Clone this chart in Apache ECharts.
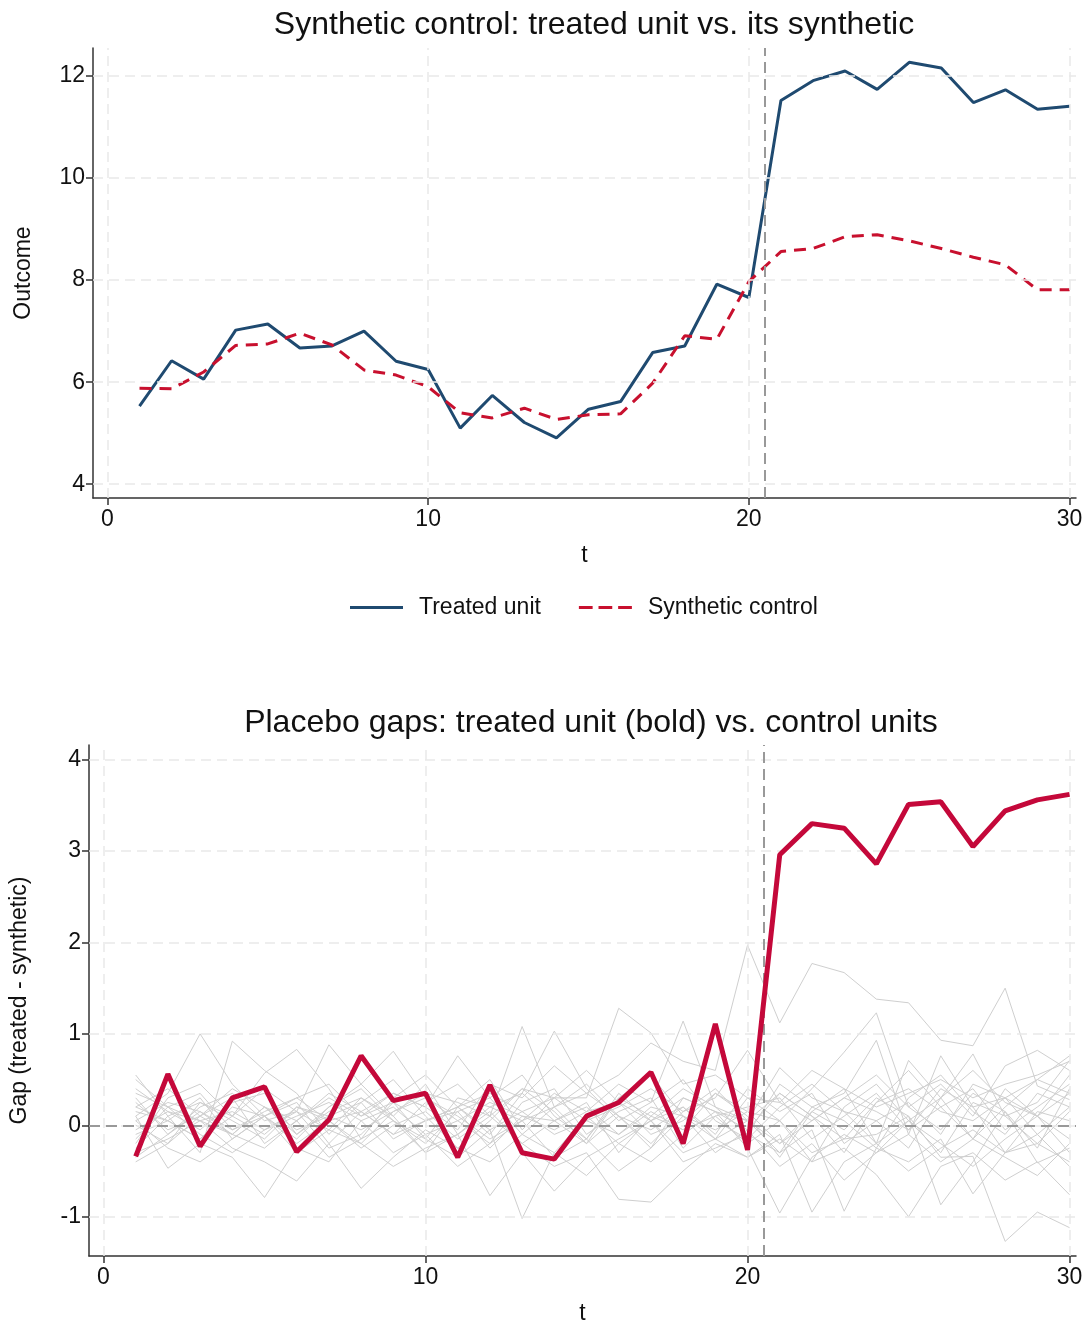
<!DOCTYPE html>
<html>
<head>
<meta charset="utf-8">
<script src="https://cdn.jsdelivr.net/npm/echarts@6/dist/echarts.min.js"></script>
<style>
  html, body { margin: 0; padding: 0; background: #fff; }
  #chart { width: 1089px; height: 1326px; }
</style>
</head>
<body>
<div id="chart"></div>
<script>
// periods t = 1..30
const periods = [1,2,3,4,5,6,7,8,9,10,11,12,13,14,15,16,17,18,19,20,21,22,23,24,25,26,27,28,29,30]
const treatedOutcome = [5.53,6.42,6.06,7.02,7.14,6.67,6.71,7.00,6.41,6.25,5.10,5.74,5.21,4.91,5.47,5.62,6.58,6.71,7.92,7.66,11.52,11.91,12.10,11.74,12.27,12.16,11.48,11.73,11.35,11.41]
const syntheticOutcome = [5.88,5.87,6.20,6.72,6.75,6.96,6.73,6.24,6.14,5.91,5.40,5.30,5.49,5.27,5.36,5.38,5.98,6.91,6.84,7.97,8.56,8.62,8.85,8.89,8.77,8.62,8.45,8.30,7.81,7.81]
const treatedGap = [-0.34,0.56,-0.23,0.30,0.42,-0.29,0.06,0.76,0.27,0.35,-0.35,0.44,-0.30,-0.37,0.10,0.25,0.58,-0.20,1.11,-0.27,2.96,3.30,3.25,2.86,3.51,3.54,3.05,3.44,3.56,3.62]
// gaps of the control units (placebo runs)
const placeboGaps = [
  [0.05,0.25,0.15,-0.10,0.20,0.05,0.30,0.10,0.35,0.20,-0.05,0.45,0.30,0.65,0.35,0.55,0.90,0.70,0.60,1.97,1.12,1.77,1.67,1.38,1.34,0.93,0.87,1.50,0.43,0.28],
  [0.10,0.35,1.00,0.45,0.10,-0.15,0.20,0.40,0.05,-0.20,0.15,0.30,-0.10,0.20,0.45,0.10,-0.25,0.30,0.15,-0.05,0.35,0.10,-0.30,0.25,0.60,0.20,-0.15,0.40,0.10,0.55],
  [0.55,0.10,-0.30,0.92,0.60,0.35,-0.10,0.25,0.50,0.10,-0.25,0.05,0.40,0.15,-0.20,0.30,0.55,0.10,-0.15,0.30,0.05,-0.40,0.20,0.45,0.05,-0.30,0.25,0.10,-0.20,0.15],
  [-0.20,0.30,0.45,0.10,0.57,0.83,0.40,-0.15,0.30,0.55,0.20,-0.10,0.35,0.05,0.25,-0.30,0.10,0.40,0.20,-0.10,0.45,0.20,0.05,-0.25,0.30,0.55,0.15,-0.10,0.35,0.20],
  [0.30,-0.10,0.20,0.35,0.05,0.15,0.88,0.45,0.10,-0.30,0.20,0.50,-0.05,0.30,0.60,0.25,-0.10,0.05,0.35,0.10,-0.35,0.15,0.40,-0.20,0.05,0.30,-0.15,0.20,0.50,0.35],
  [0.40,0.15,-0.05,0.25,0.35,-0.10,0.20,0.45,0.81,0.30,0.05,-0.20,0.25,0.40,-0.10,0.15,0.30,-0.25,0.10,0.20,0.30,-0.15,0.10,0.35,-0.05,0.40,0.20,-0.30,0.15,0.05],
  [-0.10,0.05,0.30,-0.15,0.10,0.25,-0.20,0.15,0.35,0.20,0.76,0.30,0.55,0.10,-0.15,0.35,0.05,0.20,-0.10,0.40,0.15,0.35,-0.20,0.05,0.25,-0.10,0.45,0.30,0.10,-0.15],
  [0.20,0.40,0.10,0.30,-0.20,0.05,0.35,0.15,-0.10,0.25,0.45,0.10,1.08,0.20,-0.15,0.30,0.10,-0.05,0.35,0.15,-0.20,0.05,0.30,0.55,0.20,-0.05,0.35,0.15,-0.25,0.40],
  [0.00,-0.20,0.25,0.10,0.40,0.15,-0.05,0.30,0.10,0.45,-0.10,0.20,0.35,1.03,0.40,0.05,0.25,0.50,0.05,-0.15,0.20,0.45,0.15,0.05,-0.25,0.30,0.60,0.25,0.10,0.35],
  [0.15,0.05,-0.15,0.20,0.10,0.30,0.05,-0.20,0.15,0.35,0.25,0.10,0.40,0.30,0.30,1.28,1.01,0.45,0.55,0.30,0.25,0.60,0.40,0.20,0.35,0.50,0.30,0.45,0.55,0.70],
  [0.25,-0.05,0.10,0.40,0.20,-0.10,0.15,0.30,0.05,-0.15,0.30,0.20,0.05,0.35,0.15,0.45,0.25,1.14,0.20,0.05,0.35,0.10,-0.15,0.25,0.40,0.15,0.05,0.30,-0.10,0.20],
  [0.10,-0.47,-0.20,-0.35,-0.79,-0.25,-0.40,0.05,-0.30,-0.10,-0.45,-0.20,0.05,-0.35,-0.15,-0.50,-0.25,0.10,-0.30,-0.05,-0.45,-0.20,-0.60,-0.30,-0.10,-0.40,-0.15,-0.35,-0.55,-0.20],
  [-0.30,-0.15,0.05,-0.25,-0.40,-0.61,-0.20,-0.69,-0.35,-0.05,-0.25,-0.40,-0.10,-0.30,-0.55,-0.20,0.05,-0.30,-0.15,-0.35,-0.10,-0.95,-0.40,-0.20,-0.50,-0.25,-0.05,-0.30,-0.20,-0.40],
  [-0.15,0.20,-0.10,-0.30,-0.05,0.15,-0.25,-0.10,0.25,-0.15,-0.35,-0.05,-1.02,-0.30,0.10,-0.20,-0.40,-0.10,0.15,-0.25,-0.96,-0.35,-0.10,-0.30,0.05,-0.20,-0.45,-0.15,0.10,-0.30],
  [0.05,-0.25,-0.40,-0.15,0.10,-0.30,-0.05,-0.20,-0.45,-0.25,-0.10,-0.77,-0.30,-0.72,-0.35,-0.15,0.05,-0.40,-0.25,-0.10,-0.30,-0.05,-0.94,-0.25,-0.40,-0.15,-0.75,-0.30,-0.10,-0.45],
  [-0.40,-0.20,0.10,-0.10,-0.25,0.05,-0.35,-0.15,0.05,-0.30,-0.10,0.15,-0.20,-0.45,-0.30,-0.81,-0.84,-0.50,-0.20,-0.35,-0.15,-0.40,-0.25,-0.54,-1.00,-0.45,-0.30,-0.60,-0.40,-0.76],
  [0.20,0.05,-0.15,0.10,-0.10,0.20,0.05,-0.25,0.00,0.15,-0.15,0.10,-0.20,0.05,0.20,-0.10,0.15,-0.05,0.10,-0.20,0.05,-0.30,-0.15,-0.10,0.10,-0.35,-0.34,-1.27,-0.95,-1.12],
  [-0.05,0.15,0.05,-0.10,0.20,-0.05,0.10,0.25,-0.15,0.05,0.20,-0.05,0.15,0.30,0.05,-0.10,0.20,0.10,-0.05,0.15,0.05,0.40,0.80,1.23,0.20,0.45,0.10,0.65,0.82,0.60],
  [0.35,0.20,0.05,0.15,-0.05,0.10,0.25,0.05,0.20,-0.10,0.05,0.25,0.10,-0.05,0.15,0.25,0.05,0.30,0.15,0.05,-0.30,0.20,0.35,0.93,-0.10,0.76,0.20,0.30,0.50,0.76],
  [-0.25,0.10,0.25,0.05,-0.15,0.20,0.10,-0.05,0.15,0.30,0.10,-0.15,0.05,0.20,0.35,0.10,-0.20,0.15,0.40,0.05,0.63,0.30,0.15,-0.20,0.71,0.30,0.78,0.10,0.25,0.71],
  [0.50,0.20,0.35,-0.05,0.15,0.30,0.45,0.10,0.25,0.05,0.20,0.35,0.15,-0.10,0.05,0.20,0.40,0.15,0.30,0.82,0.25,0.05,0.30,0.15,-0.05,0.20,0.40,-0.05,0.20,0.45],
  [-0.35,-0.10,0.15,-0.05,0.10,-0.20,0.05,0.15,-0.10,0.05,0.15,-0.25,0.10,0.05,-0.20,0.10,-0.05,0.20,-0.15,0.05,-0.20,0.15,-0.05,0.30,0.10,-0.87,-0.40,0.15,-0.41,-0.25]
]
const xTicks = [0, 10, 20, 30]
const outcomeTicks = [4, 6, 8, 10, 12]
const gapTicks = [-1, 0, 1, 2, 3, 4]
const treatmentStart = 20.5

const FONT = "'Liberation Sans', Arial, Helvetica, sans-serif"
const LABEL_SIZE = 23
const pairs = (vals) => periods.map((t, i) => [t, vals[i]])

const gridLine = { color: '#e9e9e9', width: 1.5, type: [10, 6] }

function gridMarks(yTicks) {
    return {
        silent: true,
        symbol: 'none',
        label: { show: false },
        lineStyle: gridLine,
        data: yTicks.map(v => ({ yAxis: v })).concat(xTicks.map(v => ({ xAxis: v })))
    }
}

function xAxisFor(gridIndex) {
    return {
        type: 'value',
        gridIndex: gridIndex,
        min: -0.45,
        max: 30.2,
        name: 't',
        nameLocation: 'middle',
        nameGap: 46,
        nameTextStyle: { fontFamily: FONT, fontSize: LABEL_SIZE, color: '#111' },
        axisLine: { show: true, onZero: false, lineStyle: { color: '#333', width: 1.5 } },
        axisTick: { show: true, length: 7, customValues: xTicks, lineStyle: { color: '#333', width: 1.5 } },
        axisLabel: { customValues: xTicks, fontFamily: FONT, fontSize: LABEL_SIZE, color: '#111', margin: 10 },
        splitLine: { show: false }
    }
}

function yAxisFor(gridIndex, min, max, ticks, name) {
    return {
        type: 'value',
        gridIndex: gridIndex,
        min: min,
        max: max,
        name: name,
        nameLocation: 'middle',
        nameGap: 58,
        nameTextStyle: { fontFamily: FONT, fontSize: LABEL_SIZE, color: '#111' },
        axisLine: { show: true, onZero: false, lineStyle: { color: '#333', width: 1.5 } },
        axisTick: { show: true, length: 7, customValues: ticks, lineStyle: { color: '#333', width: 1.5 } },
        axisLabel: { customValues: ticks, fontFamily: FONT, fontSize: LABEL_SIZE, color: '#111', margin: 8 },
        splitLine: { show: false }
    }
}

const grayLines = placeboGaps.map((g, k) => ({
    name: 'placebo ' + (k + 1),
    type: 'line',
    xAxisIndex: 1,
    yAxisIndex: 1,
    data: pairs(g),
    showSymbol: false,
    symbol: 'none',
    silent: true,
    z: 3,
    lineStyle: { color: '#cfcfcf', width: 1 }
}))

const option = {
    animation: false,
    backgroundColor: '#fff',
    title: [
        {
            text: 'Synthetic control: treated unit vs. its synthetic',
            left: 589, top: 4, textAlign: 'center',
            textStyle: { fontFamily: FONT, fontSize: 32, fontWeight: 'normal', color: '#111' }
        },
        {
            text: 'Placebo gaps: treated unit (bold) vs. control units',
            left: 586, top: 702, textAlign: 'center',
            textStyle: { fontFamily: FONT, fontSize: 32, fontWeight: 'normal', color: '#111' }
        }
    ],
    legend: {
        data: [
            { name: 'Treated unit', icon: 'rect' },
            { name: 'Synthetic control', icon: 'path://M0,0h14v3h-14z M20,0h14v3h-14z M40,0h14v3h-14z' }
        ],
        left: 345,
        top: 591,
        itemWidth: 53,
        itemHeight: 3,
        itemGap: 38,
        textStyle: { fontFamily: FONT, fontSize: LABEL_SIZE, color: '#111', padding: [0, 0, 0, 11] }
    },
    grid: [
        { left: 93, right: 13, top: 48, height: 450 },
        { left: 88, right: 13, top: 745, height: 512 }
    ],
    xAxis: [xAxisFor(0), xAxisFor(1)],
    yAxis: [
        yAxisFor(0, 3.73, 12.55, outcomeTicks, 'Outcome'),
        yAxisFor(1, -1.43, 4.16, gapTicks, 'Gap (treated - synthetic)')
    ],
    series: [
        {
            name: 'grid top',
            type: 'line',
            xAxisIndex: 0,
            yAxisIndex: 0,
            data: [],
            z: 1,
            markLine: gridMarks(outcomeTicks)
        },
        {
            name: 'Treated unit',
            type: 'line',
            xAxisIndex: 0,
            yAxisIndex: 0,
            data: pairs(treatedOutcome),
            showSymbol: false,
            symbol: 'none',
            z: 4,
            lineStyle: { color: '#1f4a70', width: 3 },
            itemStyle: { color: '#1f4a70' },
            markLine: {
                silent: true,
                symbol: 'none',
                label: { show: false },
                lineStyle: { color: '#999', width: 2, type: [11, 6] },
                data: [{ xAxis: treatmentStart }]
            }
        },
        {
            name: 'Synthetic control',
            type: 'line',
            xAxisIndex: 0,
            yAxisIndex: 0,
            data: pairs(syntheticOutcome),
            showSymbol: false,
            symbol: 'none',
            z: 4,
            lineStyle: { color: '#c8102e', width: 3, type: [12, 8] },
            itemStyle: { color: '#c8102e' }
        },
        {
            name: 'grid bottom',
            type: 'line',
            xAxisIndex: 1,
            yAxisIndex: 1,
            data: [],
            z: 1,
            markLine: gridMarks(gapTicks)
        },
        ...grayLines,
        {
            name: 'zero line',
            type: 'line',
            xAxisIndex: 1,
            yAxisIndex: 1,
            data: [],
            z: 4,
            markLine: {
                silent: true,
                symbol: 'none',
                label: { show: false },
                lineStyle: { color: '#999', width: 2, type: [11, 6] },
                data: [{ yAxis: 0 }, { xAxis: treatmentStart }]
            }
        },
        {
            name: 'Treated gap',
            type: 'line',
            xAxisIndex: 1,
            yAxisIndex: 1,
            data: pairs(treatedGap),
            showSymbol: false,
            symbol: 'none',
            z: 5,
            lineStyle: { color: '#c4083a', width: 5 },
            itemStyle: { color: '#c4083a' }
        }
    ]
}

const chart = echarts.init(document.getElementById('chart'), null, { renderer: 'canvas' })
chart.setOption(option)
window.onresize = function () {
    chart.resize()
}
</script>
</body>
</html>
